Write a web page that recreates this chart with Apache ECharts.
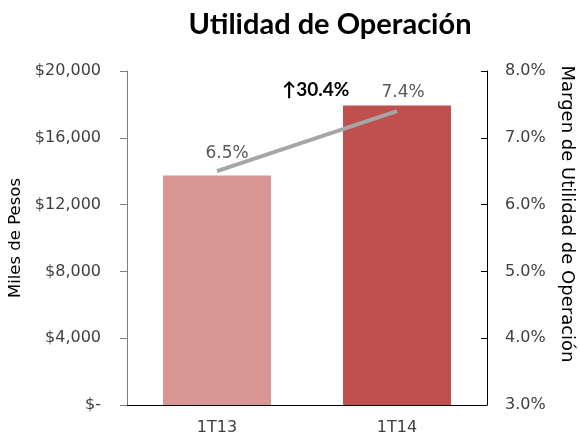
<!DOCTYPE html>
<html>
<head>
<meta charset="utf-8">
<script src="https://cdn.jsdelivr.net/npm/echarts@6/dist/echarts.min.js"></script>
<style>
  html, body { margin: 0; padding: 0; background: #fff; }
  #chart { width: 579px; height: 437px; }
</style>
</head>
<body>
<div id="chart"></div>
<script>
// datos
const categories = ['1T13', '1T14'];
const utilidad = [13750, 17930];
const margen = [6.5, 7.4];
const barColors = ['#d99694', '#c0504d'];
const crecimiento = '↑30.4%';

const chart = echarts.init(document.getElementById('chart'));
const font = 'DejaVu Sans';

const option = {
    animation: false,
    title: {
        text: 'Utilidad de Operación',
        left: 325,
        top: 5,
        textAlign: 'center',
        textStyle: { fontFamily: 'Lato', fontWeight: 'bold', fontSize: 29, color: '#000' }
    },
    grid: { left: 127, right: 92, top: 71, bottom: 32, outerBoundsMode: 'none', containLabel: false },
    xAxis: {
        type: 'category',
        data: categories,
        axisLine: { lineStyle: { color: '#000', width: 1 } },
        axisTick: { show: false },
        axisLabel: { color: '#404040', fontFamily: font, fontSize: 16, margin: 15 }
    },
    yAxis: [{
        type: 'value',
        min: 0, max: 20000, interval: 4000,
        name: 'Miles de Pesos',
        nameLocation: 'middle',
        nameGap: 99,
        nameTextStyle: { color: '#000', fontFamily: font, fontSize: 16.5 },
        axisLine: { show: true, lineStyle: { color: '#7f7f7f' } },
        axisTick: { show: true, length: 7, lineStyle: { color: '#7f7f7f' } },
        splitLine: { show: false },
        axisLabel: {
            color: '#404040', fontFamily: font, fontSize: 16, margin: 26,
            formatter: v => v === 0 ? '$-' : '$' + v.toLocaleString('en-US')
        }
    }, {
        type: 'value',
        min: 3, max: 8, interval: 1,
        name: 'Margen de Utilidad de Operación',
        nameLocation: 'middle',
        nameGap: 71,
        nameRotate: -90,
        nameTextStyle: { color: '#000', fontFamily: font, fontSize: 18, padding: [0, 48, 0, 0] },
        axisLine: { show: true, lineStyle: { color: '#000' } },
        axisTick: { show: true, inside: true, length: 6, lineStyle: { color: '#000' } },
        splitLine: { show: false },
        axisLabel: {
            color: '#404040', fontFamily: font, fontSize: 16, margin: 18,
            formatter: v => v.toFixed(1) + '%'
        }
    }],
    series: [{
        type: 'bar',
        barWidth: '60%',
        data: utilidad.map((v, i) => ({ value: v, itemStyle: { color: barColors[i] } }))
    }, {
        type: 'line',
        yAxisIndex: 1,
        symbol: 'circle',
        symbolSize: 1,
        itemStyle: { color: 'rgba(0,0,0,0)' },
        lineStyle: { color: '#a6a6a6', width: 4 },
        label: {
            show: true, position: 'top', color: '#595959', fontFamily: font, fontSize: 17,
            formatter: p => p.value.toFixed(1) + '%'
        },
        data: margen.map((v, i) => ({
            value: v,
            label: { offset: i === 0 ? [10, -4] : [6, -5] }
        }))
    }],
    graphic: [{
        type: 'text',
        left: 282,
        top: 80,
        style: { text: crecimiento, fill: '#000', font: 'bold 19px Lato' }
    }]
};

chart.setOption(option);
</script>
</body>
</html>
